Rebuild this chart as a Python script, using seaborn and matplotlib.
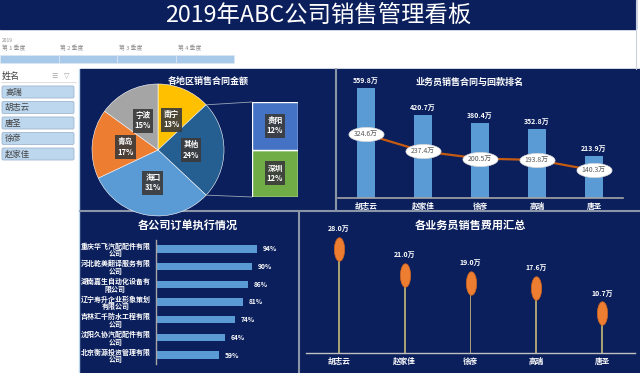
import numpy as np
import pandas as pd
import seaborn as sns
import matplotlib.pyplot as plt
from matplotlib.patches import Rectangle, FancyBboxPatch, ConnectionPatch
from matplotlib.path import Path

# ---------------------------------------------------------------
# data
# ---------------------------------------------------------------
title = "2019年ABC公司销售管理看板"
quarters = ["第 1 季度", "第 2 季度", "第 3 季度", "第 4 季度"]
slicer_names = ["高瑞", "胡志云", "唐圣", "徐彦", "赵家佳"]

regions = ["南宁", "其他", "海口", "青岛", "宁波"]
region_pct = [13, 24, 31, 17, 15]
other_regions = ["深圳", "贵阳"]
other_pct = [12, 12]

sales_people = ["胡志云", "赵家佳", "徐彦", "高瑞", "唐圣"]
contract_amt = [559.8, 420.7, 380.4, 352.8, 213.9]
payment_amt = [324.6, 237.4, 200.5, 193.8, 140.3]
expense_amt = [28.0, 21.0, 19.0, 17.6, 10.7]

companies = ["重庆华飞汽配配件有限公司", "河北乾美翻译服务有限公司", "湖南嘉生自动化设备有限公司",
             "辽宁寿升企业形象策划有限公司", "吉林汇千防水工程有限公司", "沈阳久协汽配配件有限公司",
             "北京衡源投资管理有限公司"]
order_rate = [94, 90, 86, 81, 74, 64, 59]

# ---------------------------------------------------------------
# style
# ---------------------------------------------------------------
sns.set_theme(style="white")
plt.rcParams['font.family'] = ['Noto Sans CJK SC', 'DejaVu Sans']

NAVY = "#0b1f5c"
SEP = "#8a96a8"
BLUE = "#5b9bd5"
ORANGE = "#ed7d31"
W, H = 640, 373


def box(x0, y0, x1, y1):
    return [x0 / W, 1 - y1 / H, (x1 - x0) / W, (y1 - y0) / H]


def ftext(x, y, s, **kw):
    # text in pixel coords, drawn above all axes
    return fig.text(x / W, 1 - y / H, s, zorder=10, **kw)


def ellipse(rx, ry):
    t = np.linspace(0, 2 * np.pi, 60)
    return Path(np.column_stack([rx * np.cos(t), ry * np.sin(t)]), closed=True)


fig = plt.figure(figsize=(6.4, 3.73), dpi=100, facecolor="white")

# background canvas in pixel units
bg = fig.add_axes([0, 0, 1, 1])
bg.set_xlim(0, W)
bg.set_ylim(H, 0)
bg.axis("off")

# header
bg.add_patch(Rectangle((0, 0), 636, 29, color=NAVY))
bg.text(318, 15, title, color="white", fontsize=16.8, weight="medium", ha="center", va="center")
bg.plot([636, 636], [0, 69], color="#c9d3df", lw=0.8)
bg.text(2, 40, "2019", color="#8c8c8c", fontsize=3.5, va="center")
for i, q in enumerate(quarters):
    bg.text(2 + i * 58.5, 48, q, color="#8c8c8c", fontsize=4.2, va="center")
    bg.add_patch(Rectangle((i * 58.5, 55), 58.5, 8, facecolor="#a9c9ea", edgecolor="#dbe8f5", lw=0.5))

# name slicer
bg.plot([79, 79], [69, H], color="#bdd7ee", lw=1)
bg.text(2, 76, "姓名", color="#404040", fontsize=6.5, va="center")
bg.text(51, 76, "☰", color="#a0a0a0", fontsize=5, va="center", family=['DejaVu Sans'])
bg.text(64, 76, "▽", color="#a0a0a0", fontsize=5, va="center", family=['DejaVu Sans'])
bg.plot([1, 76], [82, 82], color="#d0d0d0", lw=0.5)
for i, n in enumerate(slicer_names):
    y0 = 86 + i * 15.5
    bg.add_patch(FancyBboxPatch((2, y0), 72, 12, boxstyle="round,pad=0,rounding_size=1.5",
                                facecolor="#bdd7ee", edgecolor="#9fb6cd", lw=0.6))
    bg.text(5, y0 + 6, n, color="#404040", fontsize=6, va="center")

# dashboard panels
bg.add_patch(Rectangle((80, 69), W - 80, H - 69, color=NAVY))
bg.plot([80, W], [211, 211], color=SEP, lw=1.5)
bg.plot([336, 336], [69, 211], color=SEP, lw=1.5)
bg.plot([298.5, 298.5], [211, H], color=SEP, lw=1.5)

label_box = dict(boxstyle="square,pad=0.3", facecolor="#3a3a3a", edgecolor="none", alpha=0.9)

# ---------------------------------------------------------------
# pie of regions (bottom of pie is cut by the panel edge)
# ---------------------------------------------------------------
ftext(208, 81, "各地区销售合同金额", color="white", fontsize=6.5, weight="bold", ha="center", va="center")
ax_pie = fig.add_axes(box(92, 84, 224, 210))
pie_colors = ["#ffc000", "#255e91", BLUE, ORANGE, "#a5a5a5"]
wedges, texts = ax_pie.pie(region_pct, colors=pie_colors, startangle=90, counterclock=False,
                           labels=[f"{r}\n{p}%" for r, p in zip(regions, region_pct)],
                           labeldistance=0.5, wedgeprops=dict(edgecolor="white", linewidth=0.4))
for t in texts:
    t.set_color("white")
    t.set_fontsize(5.5)
    t.set_weight("bold")
    t.set_ha("center")
    t.set_va("center")
    t.set_bbox(label_box)
ax_pie.set_aspect("auto")
ax_pie.set_xlim(-1, 1)
ax_pie.set_ylim(-0.91, 1)

# bar of pie
ax_sub = fig.add_axes(box(252, 102, 298, 197))
ax_sub.bar([0], [other_pct[0]], width=1, color="#70ad47")
ax_sub.bar([0], [other_pct[1]], bottom=[other_pct[0]], width=1, color="#4472c4")
ax_sub.set_xlim(-0.5, 0.5)
ax_sub.set_ylim(0, sum(other_pct))
ax_sub.axis("off")
bottom = 0
for r, p in zip(other_regions, other_pct):
    ax_sub.text(0, bottom + p / 2, f"{r}\n{p}%", color="white", fontsize=5.5, weight="bold",
                ha="center", va="center", bbox=label_box)
    bottom += p

w_other = wedges[1]
for ang, yfrac in [(w_other.theta2, 1), (w_other.theta1, 0)]:
    a = np.deg2rad(ang)
    con = ConnectionPatch(xyA=(np.cos(a), np.sin(a)), coordsA="data", axesA=ax_pie,
                          xyB=(0, yfrac), coordsB="axes fraction", axesB=ax_sub,
                          color="#9aa6b8", lw=0.6)
    fig.add_artist(con)

# ---------------------------------------------------------------
# contract vs payment
# ---------------------------------------------------------------
ftext(470, 82, "业务员销售合同与回款排名", color="white", fontsize=6.5, weight="bold", ha="center", va="center")
ax_c = fig.add_axes(box(337.5, 70, 622.5, 198))
ax_c.patch.set_alpha(0)
df_c = pd.DataFrame({"name": sales_people, "contract": contract_amt, "payment": payment_amt})
sns.barplot(data=df_c, x="name", y="contract", color=BLUE, saturation=1, width=0.32,
            linewidth=0, ax=ax_c)
sns.lineplot(x=np.arange(len(sales_people)), y=payment_amt, color="#c55a11", lw=1.6, ax=ax_c)
ax_c.scatter(np.arange(len(sales_people)), payment_amt, marker=ellipse(2.5, 1), s=640,
             facecolor="white", edgecolor="#d9d9d9", lw=0.5, zorder=5)
for i, (c, p) in enumerate(zip(contract_amt, payment_amt)):
    ax_c.annotate(f"{c}万", (i, c), xytext=(0, 3), textcoords="offset points", color="white",
                  fontsize=5, weight="bold", ha="center", va="bottom")
    ax_c.text(i, p, f"{p}万", color="#595959", fontsize=5, ha="center", va="center", zorder=6)
ax_c.set_xlim(-0.5, len(sales_people) - 0.5)
ax_c.set_ylim(0, 128 / 0.1965)
ax_c.set_xlabel("")
ax_c.set_ylabel("")
ax_c.set_yticks([])
for s in ["top", "right", "left"]:
    ax_c.spines[s].set_visible(False)
ax_c.spines["bottom"].set_color("#a6a6a6")
ax_c.spines["bottom"].set_linewidth(1.2)
ax_c.tick_params(axis="x", colors="white", labelsize=5.5, length=0, pad=3)
for t in ax_c.get_xticklabels():
    t.set_weight("bold")

# ---------------------------------------------------------------
# order execution
# ---------------------------------------------------------------
ftext(188, 225, "各公司订单执行情况", color="white", fontsize=8, weight="bold", ha="center", va="center")
ax_o = fig.add_axes(box(156, 240, 290, 364))
ax_o.patch.set_alpha(0)
wrapped = [c[:10] + "\n" + c[10:] for c in companies]
df_o = pd.DataFrame({"company": wrapped, "rate": order_rate})
sns.barplot(data=df_o, y="company", x="rate", orient="h", color=BLUE, saturation=1, width=0.42,
            linewidth=0, ax=ax_o)
for i, v in enumerate(order_rate):
    ax_o.annotate(f"{v}%", (v, i), xytext=(4, 0), textcoords="offset points", color="white",
                  fontsize=4.8, weight="bold", ha="left", va="center")
ax_o.set_xlim(0, 125)
ax_o.set_xlabel("")
ax_o.set_ylabel("")
ax_o.set_xticks([])
for s in ["top", "right", "bottom"]:
    ax_o.spines[s].set_visible(False)
ax_o.spines["left"].set_color("#a6a6a6")
ax_o.spines["left"].set_linewidth(1)
ax_o.tick_params(axis="y", colors="white", labelsize=5, length=0, pad=4)
for t in ax_o.get_yticklabels():
    t.set_weight("bold")
    t.set_multialignment("center")
    t.set_linespacing(1.1)

# ---------------------------------------------------------------
# expense lollipop
# ---------------------------------------------------------------
ftext(470, 225, "各业务员销售费用汇总", color="white", fontsize=8, weight="bold", ha="center", va="center")
ax_e = fig.add_axes(box(306, 230, 635, 353))
ax_e.patch.set_alpha(0)
df_e = pd.DataFrame({"name": sales_people, "expense": expense_amt})
sns.barplot(data=df_e, x="name", y="expense", color="#a59f72", saturation=1, width=0.026,
            linewidth=0, ax=ax_e)
ax_e.scatter(np.arange(len(sales_people)), expense_amt, marker=ellipse(1, 2.3), s=285,
             facecolor=ORANGE, edgecolor="#d0651f", lw=0.5, zorder=5)
for i, v in enumerate(expense_amt):
    ax_e.annotate(f"{v:.1f}万", (i, v), xytext=(0, 12), textcoords="offset points", color="white",
                  fontsize=5, weight="bold", ha="center", va="bottom")
ax_e.set_xlim(-0.5, len(sales_people) - 0.5)
ax_e.set_ylim(0, 123 / 3.71)
ax_e.set_xlabel("")
ax_e.set_ylabel("")
ax_e.set_yticks([])
for s in ["top", "right", "left"]:
    ax_e.spines[s].set_visible(False)
ax_e.spines["bottom"].set_color("#c0c0c0")
ax_e.spines["bottom"].set_linewidth(1)
ax_e.tick_params(axis="x", colors="white", labelsize=5.5, length=0, pad=3)
for t in ax_e.get_xticklabels():
    t.set_weight("bold")

fig.savefig("out.png", dpi=100, facecolor="white")
